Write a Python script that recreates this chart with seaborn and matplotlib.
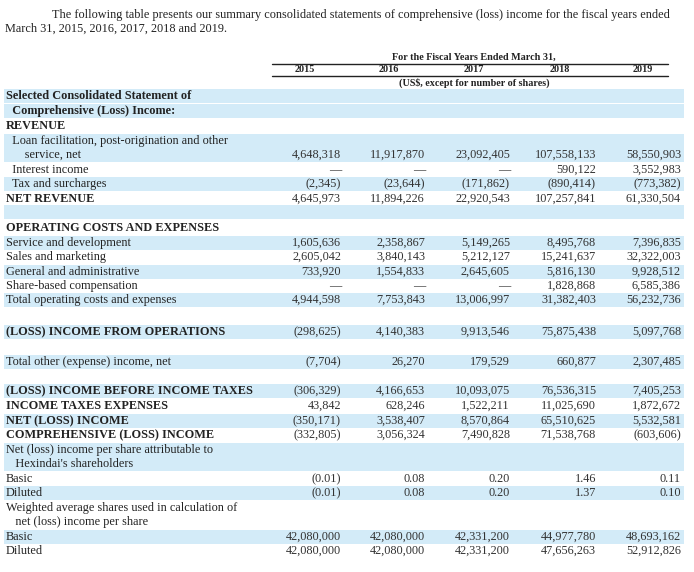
import matplotlib
matplotlib.use("Agg")
import matplotlib.pyplot as plt
import seaborn as sns

sns.set_theme(style="white", font="Liberation Serif")

years = ["2015", "2016", "2017", "2018", "2019"]
labels = [
    "Selected Consolidated Statement of", "  Comprehensive (Loss) Income:", "REVENUE",
    "  Loan facilitation, post-origination and other", "      service, net", "  Interest income",
    "  Tax and surcharges", "NET REVENUE", "", "OPERATING COSTS AND EXPENSES",
    "Service and development", "Sales and marketing", "General and administrative",
    "Share-based compensation", "Total operating costs and expenses", "",
    "(LOSS) INCOME FROM OPERATIONS", "", "Total other (expense) income, net", "",
    "(LOSS) INCOME BEFORE INCOME TAXES", "INCOME TAXES EXPENSES", "NET (LOSS) INCOME",
    "COMPREHENSIVE (LOSS) INCOME", "Net (loss) income per share attributable to",
    "   Hexindai's shareholders", "Basic", "Diluted",
    "Weighted average shares used in calculation of", "   net (loss) income per share",
    "Basic", "Diluted",
]
bold = [1,1,1,0,0,0,0,1,0,1,0,0,0,0,0,0,1,0,0,0,1,1,1,1,0,0,0,0,0,0,0,0]
shaded = [1,1,0,1,1,0,1,0,1,0,1,0,1,0,1,0,1,0,1,0,1,0,1,0,1,1,0,1,0,0,1,0]
row_y = [96,111,126,141,155,170,184,199,212,228,243,257,272,286,300,316,332,347,362,377,
         391,406,421,435,450,464,479,493,508,522,537,551]
D = "—"
values = {
    4: ["4,648,318", "11,917,870", "23,092,405", "107,558,133", "58,550,903"],
    5: [D, D, D, "590,122", "3,552,983"],
    6: ["(2,345)", "(23,644)", "(171,862)", "(890,414)", "(773,382)"],
    7: ["4,645,973", "11,894,226", "22,920,543", "107,257,841", "61,330,504"],
    10: ["1,605,636", "2,358,867", "5,149,265", "8,495,768", "7,396,835"],
    11: ["2,605,042", "3,840,143", "5,212,127", "15,241,637", "32,322,003"],
    12: ["733,920", "1,554,833", "2,645,605", "5,816,130", "9,928,512"],
    13: [D, D, D, "1,828,868", "6,585,386"],
    14: ["4,944,598", "7,753,843", "13,006,997", "31,382,403", "56,232,736"],
    16: ["(298,625)", "4,140,383", "9,913,546", "75,875,438", "5,097,768"],
    18: ["(7,704)", "26,270", "179,529", "660,877", "2,307,485"],
    20: ["(306,329)", "4,166,653", "10,093,075", "76,536,315", "7,405,253"],
    21: ["43,842", "628,246", "1,522,211", "11,025,690", "1,872,672"],
    22: ["(350,171)", "3,538,407", "8,570,864", "65,510,625", "5,532,581"],
    23: ["(332,805)", "3,056,324", "7,490,828", "71,538,768", "(603,606)"],
    26: ["(0.01)", "0.08", "0.20", "1.46", "0.11"],
    27: ["(0.01)", "0.08", "0.20", "1.37", "0.10"],
    30: ["42,080,000", "42,080,000", "42,331,200", "44,977,780", "48,693,162"],
    31: ["42,080,000", "42,080,000", "42,331,200", "47,656,263", "52,912,826"],
}
col_right = [341, 425, 510, 596, 681]
year_x = [305, 389, 474, 560, 643]

fig = plt.figure(figsize=(6.94, 5.72), dpi=100)
ax = fig.add_axes([0, 0, 1, 1])
ax.set_xlim(0, 694)
ax.set_ylim(572, 0)
ax.axis("off")

fs = 8.85
ax.text(52, 15, "The following table presents our summary consolidated statements of comprehensive (loss) income for the fiscal years ended",
        fontsize=fs, va="center", color="#222")
ax.text(5, 29, "March 31, 2015, 2016, 2017, 2018 and 2019.", fontsize=fs, va="center", color="#222")
ax.text(474, 57, "For the Fiscal Years Ended March 31,", fontsize=7.3, fontweight="bold", ha="center", va="center", color="#222")
ax.plot([272, 668], [64, 64], color="#222", lw=1)
for x, y in zip(year_x, years):
    ax.text(x, 70, y, fontsize=7.3, fontweight="bold", ha="center", va="center", color="#222")
ax.plot([272, 668], [76, 76], color="#222", lw=1)
ax.text(474, 83, "(US$, except for number of shares)", fontsize=7.3, fontweight="bold", ha="center", va="center", color="#222")

for i, (lab, y) in enumerate(zip(labels, row_y)):
    if shaded[i]:
        ax.axhspan(y - 7.3, y + 7.3, xmin=4 / 694, xmax=684 / 694, color="#d3ebf8", lw=0)
    if lab:
        ax.text(6, y, lab, fontsize=fs, va="center", fontweight="bold" if bold[i] else "normal", color="#222")
    if i in values:
        for x, v in zip(col_right, values[i]):
            ax.text(x, y, v, fontsize=fs, va="center", ha="right", color="#333")

fig.savefig("out.png", dpi=100, facecolor="white")
